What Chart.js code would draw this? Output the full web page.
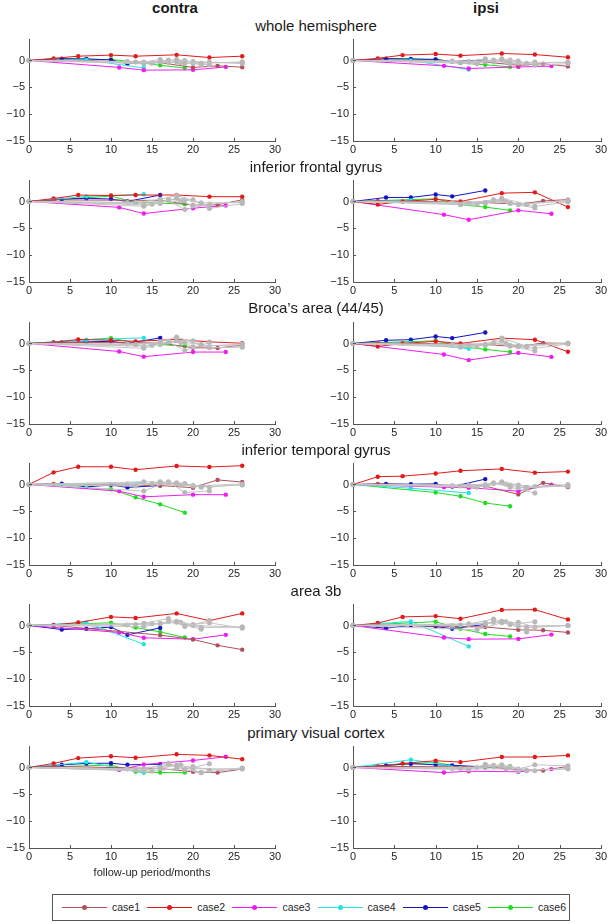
<!DOCTYPE html>
<html><head><meta charset="utf-8">
<script src="https://cdn.jsdelivr.net/npm/chart.js@4/dist/chart.umd.min.js"></script>
<style>
html,body{margin:0;padding:0;background:#fff;}
body{width:613px;height:924px;overflow:hidden;position:relative;font-family:"Liberation Sans",Arial,Helvetica,sans-serif;color:#1a1a1a;}
canvas{position:absolute;}
.t{position:absolute;white-space:nowrap;font-size:15px;line-height:18px;transform:translateX(-50%);}
.b{font-weight:bold;}
.xl{position:absolute;white-space:nowrap;font-size:11px;line-height:14px;transform:translateX(-50%);color:#262626;}
#legend{position:absolute;left:52px;top:894px;width:516px;height:25px;border:1px solid #555;background:#fff;}
.ll{position:absolute;top:12px;height:1px;width:45px;}
.lm{position:absolute;top:10px;width:5px;height:5px;border-radius:50%;}
.lt{position:absolute;top:5px;font-size:10.5px;line-height:14px;color:#262626;}
</style>
</head><body>
<script>
// ---- categories / labels ----
const sides = ['contra', 'ipsi'];
const regionTitles = ['whole hemisphere', 'inferior frontal gyrus', 'Broca\u2019s area (44/45)', 'inferior temporal gyrus', 'area 3b', 'primary visual cortex'];
const caseNames = ['case1', 'case2', 'case3', 'case4', 'case5', 'case6'];
const xTicks = [0, 5, 10, 15, 20, 25, 30];
const yTicks = [-15, -10, -5, 0];
const xLabel = 'follow-up period/months';

// ---- follow-up months per series (case1..case6, then unlabelled grey cases) ----
const case1Months = [0, 3, 16, 20, 23, 26];
const case2Months = [0, 3, 6, 10, 13, 18, 22, 26];
const case3Months = [0, 11, 14, 20, 24];
const case4Months = [0, 7, 14];
const case5Months = [0, 4, 7, 10, 12, 16];
const case6Months = [0, 10, 13, 16, 19];
const gray1Months = [0, 13, 16, 18, 21, 26];
const gray2Months = [0, 14, 17, 19, 22];
const gray3Months = [0, 15, 18, 20, 22, 26];
const gray4Months = [0, 14, 16, 17, 19, 21];
const gray5Months = [0, 12, 18.5, 20, 26];

// ---- values per panel: [case1..case6, gray1..gray5] ----
const wholeContra = [
  [0, 0.1, -0.4, -1.3, -1.0, -1.25],
  [0, 0.4, 0.8, 1.0, 0.8, 1.05, 0.55, 0.8],
  [0, -1.3, -1.8, -1.75, -1.2],
  [0, 0.1, -1.4],
  [0, 0.35, 0.3, 0.1, -0.6, -0.3],
  [0, 0.2, -0.3, -0.9, -1.4],
  [0, -0.3, -0.3, 0.2, -0.5, -0.3],
  [0, -0.6, 0.1, -0.5, -0.8],
  [0, -0.5, -0.3, -0.2, -0.3, -0.6],
  [0, -0.3, 0.2, -0.4, 0.0, -0.8],
  [0, -0.2, -0.4, -0.5, -0.3]
];
const wholeIpsi = [
  [0, 0.1, -0.3, -0.9, -0.6, -1.1],
  [0, 0.4, 1.0, 1.2, 0.9, 1.3, 1.1, 0.6],
  [0, -1.0, -1.5, -1.2, -1.05],
  [0, 0.0, -1.7],
  [0, 0.35, 0.3, 0.2, -0.2, 0.1],
  [0, 0.2, -0.5, -0.8, -1.2],
  [0, -0.4, -0.2, 0.2, -0.5, -0.4],
  [0, -0.3, 0.1, -0.6, -0.3],
  [0, -0.6, 0.3, -0.1, -0.9, -0.6],
  [0, -0.2, 0.3, -0.3, 0.1, -0.6],
  [0, -0.1, -0.3, -0.5, -0.3]
];
const ifgContra = [
  [0, 0.3, 0.2, -0.7, -0.6, 0.3],
  [0, 0.55, 1.2, 1.1, 1.2, 1.2, 0.9, 0.9],
  [0, -1.1, -2.25, -1.25, -0.75],
  [0, 0.95, 1.35],
  [0, 0.4, 0.6, 0.45, 0.0, 1.2],
  [0, 1.0, -0.2, -0.3, -0.5],
  [0, -0.2, 0.4, 1.1, -0.3, -0.2],
  [0, -0.9, 0.2, -1.5, -0.5],
  [0, -0.5, 0.6, 0.3, -1.3, -0.4],
  [0, -0.6, -0.4, 0.4, 0.3, -0.3],
  [0, -0.2, 0.1, -0.8, 0.0]
];
const ifgIpsi = [
  [0, 0.1, -0.2, -0.5, 0.1, 0.35],
  [0, -0.55, 0.0, 0.4, 0.0, 1.55, 1.7, -1.05],
  [0, -2.45, -3.4, -1.65, -2.3],
  [0, 0.2, -0.5],
  [0, 0.75, 0.75, 1.3, 0.95, 2.05],
  [0, 0.5, -0.6, -1.05, -1.65],
  [0, -0.6, -0.3, 0.6, -0.5, 0.2],
  [0, -0.3, 0.3, -0.4, -1.2],
  [0, -0.5, 0.3, -0.6, -0.9, -0.1],
  [0, -0.4, -0.2, 0.0, -0.3, -0.5],
  [0, -0.2, 0.1, -0.5, 0.1]
];
const brocaContra = [
  [0, 0.2, 0.1, -0.8, -0.85, -0.3],
  [0, 0.2, 0.75, 0.6, 0.4, 0.75, 0.3, 0.05],
  [0, -1.5, -2.45, -1.6, -1.6],
  [0, 0.7, 1.05],
  [0, 0.2, 0.3, 0.4, 0.0, 1.05],
  [0, 1.0, 0.1, -0.2, -0.5],
  [0, -0.2, 0.3, 1.2, -0.3, -0.5],
  [0, -0.9, 0.3, -1.3, 0.2],
  [0, -0.4, 0.5, 0.5, -0.8, -0.7],
  [0, -0.5, -0.2, 0.4, 0.2, -0.2],
  [0, -0.1, 0.2, -0.6, -0.1]
];
const brocaIpsi = [
  [0, 0.1, -0.2, -0.6, 0.1, 0.0],
  [0, -0.55, 0.0, 0.4, 0.0, 1.0, 0.7, -1.55],
  [0, -2.05, -3.1, -1.75, -2.5],
  [0, 0.1, -1.0],
  [0, 0.6, 0.7, 1.3, 1.0, 2.05],
  [0, 0.5, -0.6, -1.1, -1.6],
  [0, -0.7, -0.3, 1.0, -0.5, 0.0],
  [0, -0.4, 0.2, -0.5, -1.4],
  [0, -0.5, 0.5, -0.6, -0.9, -0.1],
  [0, -0.3, -0.2, 0.0, -0.4, -0.6],
  [0, -0.2, 0.1, -0.4, 0.1]
];
const itgContra = [
  [0, 0.1, -0.2, -0.6, 0.85, 0.45],
  [0, 2.25, 3.3, 3.3, 2.75, 3.45, 3.25, 3.5],
  [0, -1.25, -2.3, -1.9, -1.9],
  [0, -0.2, 0.4],
  [0, 0.15, -0.45, -0.1, -0.55, -0.2],
  [0, -0.9, -2.4, -3.7, -5.25],
  [0, -0.3, 0.5, 0.3, -0.4, -0.1],
  [0, -1.2, 0.5, -1.5, -1.2],
  [0, 0.2, 0.2, -0.2, -0.5, 0.0],
  [0, 0.5, 0.4, 0.3, 0.2, -0.5],
  [0, 0.1, -0.1, -0.3, 0.1]
];
const itgIpsi = [
  [0, 0.1, -0.3, -1.85, 0.3, -0.5],
  [0, 1.45, 1.55, 2.05, 2.55, 2.9, 2.2, 2.4],
  [0, -0.5, -0.6, -1.25, -0.05],
  [0, -0.7, -1.6],
  [0, 0.1, 0.05, 0.1, -0.4, 1.0],
  [0, -1.5, -2.2, -3.45, -4.05],
  [0, -0.3, -0.4, 0.5, -0.5, -0.3],
  [0, -0.2, 0.3, -0.5, -1.6],
  [0, -0.5, 0.4, -0.1, -0.4, 0.0],
  [0, -0.1, 0.0, 0.2, -0.1, -0.8],
  [0, -0.2, 0.1, -0.6, -0.3]
];
const area3bContra = [
  [0, 0.0, -1.8, -2.6, -3.7, -4.5],
  [0, 0.1, 0.55, 1.6, 1.4, 2.25, 0.9, 2.25],
  [0, -1.3, -2.3, -2.55, -1.75],
  [0, 0.55, -3.5],
  [0, -0.75, -0.6, -0.3, -1.75, -0.45],
  [0, 0.5, -0.4, -1.2, -2.25],
  [0, 0.2, 0.3, 0.8, -0.4, -0.3],
  [0, 0.4, 1.3, -0.2, 0.9],
  [0, 0.3, 0.6, 0.2, 0.5, -0.5],
  [0, -0.2, 0.4, 0.7, 0.1, -0.7],
  [0, 0.1, 0.6, 0.0, -0.3]
];
const area3bIpsi = [
  [0, 0.1, -0.3, -0.8, -0.9, -1.3],
  [0, 0.45, 1.6, 1.75, 1.25, 2.9, 2.95, 1.1],
  [0, -2.25, -2.55, -2.5, -1.7],
  [0, 0.75, -3.9],
  [0, -0.5, 0.0, -0.2, -0.6, 0.2],
  [0, 0.7, -0.6, -1.6, -2.05],
  [0, 0.1, 0.3, 0.8, -0.4, 0.0],
  [0, 0.3, 1.2, 0.2, 0.7],
  [0, -0.8, 0.5, 0.6, -0.3, 0.0],
  [0, 0.2, 0.5, 0.6, 0.3, -1.2],
  [0, 0.0, 0.7, -0.1, 0.0]
];
const pvContra = [
  [0, 0.2, -0.2, -0.8, -0.95, -0.3],
  [0, 0.75, 1.75, 2.1, 1.8, 2.45, 2.25, 1.55],
  [0, -0.45, 0.55, 1.3, 2.0],
  [0, 1.0, -1.0],
  [0, 0.5, 0.75, 0.8, 0.5, 0.6],
  [0, 0.45, -0.8, -0.95, -0.95],
  [0, -0.5, -0.2, 0.4, -0.9, -0.2],
  [0, -0.3, 0.8, -0.3, 0.7],
  [0, -0.7, -0.2, 0.2, -0.5, -0.1],
  [0, -0.6, 0.0, 0.6, -0.4, -1.0],
  [0, -0.3, 0.5, -0.2, -0.3]
];
const pvIpsi = [
  [0, 0.2, 0.1, -0.4, -0.55, 0.2],
  [0, 0.2, 0.75, 1.25, 1.0, 1.95, 1.95, 2.25],
  [0, -0.95, -0.7, -0.8, -0.3],
  [0, 1.45, -0.2],
  [0, 0.4, 0.7, 0.5, 0.4, 0.1],
  [0, 0.95, 0.1, 0.0, 0.25],
  [0, -0.2, 0.3, 0.5, -0.5, -0.3],
  [0, -0.3, 0.2, 0.1, -0.6],
  [0, 0.0, 0.3, -0.3, 0.5, 0.3],
  [0, -0.4, 0.6, 0.4, 0.0, -0.6],
  [0, -0.2, -0.3, -0.6, -0.2]
];

// ---- styling ----
const seriesMonths = [case1Months, case2Months, case3Months, case4Months, case5Months, case6Months,
  gray1Months, gray2Months, gray3Months, gray4Months, gray5Months];
const caseColors = ['#b0505c', '#e31a1a', '#f01cf0', '#22e4e4', '#1414c4', '#22dc22'];
const grayLine = '#c4c4c4', grayMark = '#b8b8b8';
const panels = [
  [wholeContra, wholeIpsi], [ifgContra, ifgIpsi], [brocaContra, brocaIpsi],
  [itgContra, itgIpsi], [area3bContra, area3bIpsi], [pvContra, pvIpsi]
];
const FONT = '"Liberation Sans", Arial, Helvetica, sans-serif';
const AXIS = '#555555', TXT = '#262626';
const rowTop = r => Math.round(60.3 + 141.4 * r - 21.47);
const fmt = v => (v < 0 ? '\u2212' + Math.abs(v) : String(v));

const inwardTicks = {
  id: 'inwardTicks',
  afterDraw(chart) {
    const {ctx, chartArea: a, scales: {x, y}} = chart;
    ctx.save();
    ctx.strokeStyle = AXIS; ctx.lineWidth = 1;
    ctx.beginPath();
    xTicks.forEach(v => { const px = Math.round(x.getPixelForValue(v)) + 0.5; ctx.moveTo(px, a.bottom); ctx.lineTo(px, a.bottom - 3); });
    yTicks.forEach(v => { const py = Math.round(y.getPixelForValue(v)) + 0.5; ctx.moveTo(a.left, py); ctx.lineTo(a.left + 3, py); });
    ctx.stroke();
    ctx.restore();
  }
};

function build(values, left, width, top, yAxisW, padRight) {
  const cv = document.createElement('canvas');
  cv.width = width; cv.height = 120;
  cv.style.left = left + 'px'; cv.style.top = top + 'px';
  cv.style.width = width + 'px'; cv.style.height = '120px';
  document.body.appendChild(cv);
  const datasets = values.map((vals, i) => {
    const isCase = i < 6;
    return {
      label: isCase ? caseNames[i] : 'other',
      data: vals.map((v, k) => ({x: seriesMonths[i][k], y: v})),
      borderColor: isCase ? caseColors[i] : grayLine,
      backgroundColor: isCase ? caseColors[i] : grayMark,
      pointBackgroundColor: isCase ? caseColors[i] : grayMark,
      pointBorderColor: isCase ? caseColors[i] : grayMark,
      borderWidth: 1,
      pointRadius: isCase ? 2.2 : 2.5,
      pointBorderWidth: 0,
      tension: 0,
      fill: false,
      clip: false,
      order: isCase ? 10 + i : 1
    };
  });
  new Chart(cv, {
    type: 'line',
    data: {datasets},
    options: {
      responsive: false, animation: false, devicePixelRatio: 1,
      layout: {autoPadding: false, padding: {left: 0, right: padRight, top: 0, bottom: 0}},
      plugins: {legend: {display: false}, tooltip: {enabled: false}, title: {display: false}},
      events: [],
      scales: {
        x: {
          type: 'linear', min: 0, max: 30,
          afterBuildTicks: s => { s.ticks = xTicks.map(v => ({value: v})); },
          ticks: {font: {size: 11, family: FONT}, color: TXT, padding: 2, maxRotation: 0, autoSkip: false, callback: fmt},
          grid: {display: false, drawTicks: false},
          border: {display: true, color: AXIS, width: 1},
          afterFit: s => { s.height = 18; s.paddingLeft = 0; s.paddingRight = 0; }
        },
        y: {
          type: 'linear', min: -15, max: 4,
          afterBuildTicks: s => { s.ticks = yTicks.map(v => ({value: v})); },
          ticks: {font: {size: 11, family: FONT}, color: TXT, padding: 4, autoSkip: false, callback: fmt},
          grid: {display: false, drawTicks: false},
          border: {display: true, color: AXIS, width: 1},
          afterFit: s => { s.width = yAxisW; s.paddingTop = 0; s.paddingBottom = 0; }
        }
      }
    },
    plugins: [inwardTicks]
  });
}

function text(cls, str, cx, top) {
  const d = document.createElement('div');
  d.className = cls; d.textContent = str;
  d.style.left = cx + 'px'; d.style.top = top + 'px';
  document.body.appendChild(d);
}

panels.forEach((pair, r) => {
  const top = rowTop(r);
  build(pair[0], 0, 300, top, 29, 25);
  build(pair[1], 320, 293, top, 33, 12);
  text('t', regionTitles[r], 316, Math.round(16.5 + 141.4 * r));
});
text('t b', sides[0], 175, -1);
text('t b', sides[1], 486, -1);
text('xl', xLabel, 152, 865);

const lg = document.createElement('div');
lg.id = 'legend';
document.body.appendChild(lg);
caseNames.forEach((n, i) => {
  const x0 = 9 + 85.2 * i;
  const line = document.createElement('div');
  line.className = 'll'; line.style.left = x0 + 'px'; line.style.background = caseColors[i];
  const m = document.createElement('div');
  m.className = 'lm'; m.style.left = (x0 + 20) + 'px'; m.style.background = caseColors[i];
  const t = document.createElement('div');
  t.className = 'lt'; t.style.left = (x0 + 50) + 'px'; t.textContent = n;
  lg.appendChild(line); lg.appendChild(m); lg.appendChild(t);
});
</script>
</body></html>
